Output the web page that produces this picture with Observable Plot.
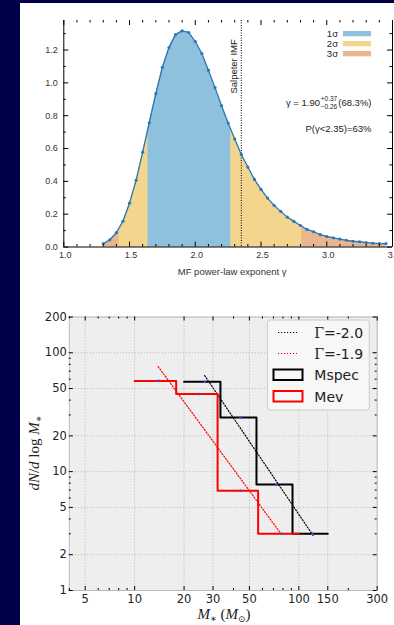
<!DOCTYPE html>
<html><head><meta charset="utf-8">
<script src="https://cdn.jsdelivr.net/npm/d3@7"></script>
<script src="https://cdn.jsdelivr.net/npm/@observablehq/plot@0.6"></script>
<style>
html,body{margin:0;padding:0;background:#000048;width:394px;height:625px;overflow:hidden}
#top{position:absolute;left:20px;top:3px;width:374px;height:290px;background:#fff}
#bot{position:absolute;left:20px;top:293px;width:374px;height:332px;background:#fff}
svg{display:block;overflow:visible}
</style></head><body>
<div id="top"></div><div id="bot"></div>
<script>
// ---------- top panel data ----------
const gammaValues = [1.30,1.35,1.40,1.45,1.50,1.55,1.60,1.65,1.70,1.75,1.80,1.85,1.90,1.95,2.00,2.05,2.10,2.15,2.20,2.25,2.30,2.35,2.40,2.45,2.50,2.55,2.60,2.65,2.70,2.75,2.80,2.85,2.90,2.95,3.00,3.05,3.10,3.15,3.20,3.25,3.30,3.35,3.40,3.45];
const density = [0.020,0.044,0.087,0.157,0.267,0.406,0.578,0.757,0.934,1.095,1.215,1.294,1.317,1.307,1.252,1.179,1.077,0.971,0.861,0.755,0.658,0.564,0.487,0.412,0.351,0.298,0.253,0.217,0.182,0.156,0.131,0.107,0.093,0.076,0.064,0.056,0.048,0.041,0.035,0.032,0.027,0.023,0.021,0.020];
const sigmaLabels = ["1σ","2σ","3σ"];
const sigmaRanges = [[1.64,2.27],[1.42,2.81],[1.30,3.45]];
const sigmaColors = ["#8ec1de","#f4d58d","#ebb58d"];
const salpeterGamma = 2.35;
const salpeterLabel = "Salpeter IMF";
const gammaBest = 1.90, gammaErrPlus = 0.37, gammaErrMinus = 0.26, gammaConf = "68.3%";
const probText = "P(γ<2.35)=63%";
const topXLabel = "MF power-law exponent γ";
const topXMajor = [1.0,1.5,2.0,2.5,3.0,3.5];
const topXMinor = [1.1,1.2,1.3,1.4,1.6,1.7,1.8,1.9,2.1,2.2,2.3,2.4,2.6,2.7,2.8,2.9,3.1,3.2,3.3,3.4];
const topYMajor = [0.0,0.2,0.4,0.6,0.8,1.0,1.2];
const topYMinor = [0.1,0.3,0.5,0.7,0.9,1.1,1.3];

// ---------- bottom panel data ----------
const mspecEdges = [20,33.3,55.2,91.5,150];
const mspecValues = [57,28.5,7.8,3.0,3.0];
const mspecCenters = [26.7,44.1,73.1,121.2];
const mevEdges = [10,17.9,32.0,56.5,100];
const mevValues = [58,45,6.9,3.0,3.0];
const mevCenters = [14.0,24.8,44.1,78.4];
const fit20M = [26.7,122.3], fit20N = [64.3,2.90];
const fit19M = [13.9,78.4], fit19N = [76.6,2.96];
const botXMajor = [5,10,20,30,50,100,150,300];
const botXMinor = [4,6,7,8,9,40,60,70,80,90,200];
const botYMajor = [1,2,5,10,20,50,100,200];
const botYMinor = [3,4,6,7,8,9,30,40,60,70,80,90];
const legendLabels = ["=-2.0","=-1.9","Mspec","Mev"];

// ================= TOP =================
const W1 = 374, H1 = 290;
const mT = {left:43.3, right:2, top:17, bottom:46.5};
const phT = H1 - mT.top - mT.bottom, pwT = W1 - mT.left - mT.right;
const pdf = gammaValues.map((g,i)=>({g, p:density[i]}));
const lineBlue = "#2878b8";
const tickFont = "Liberation Sans, Arial, Helvetica, sans-serif";

const topPlot = Plot.plot({
  width:W1, height:H1,
  marginLeft:mT.left, marginRight:mT.right, marginTop:mT.top, marginBottom:mT.bottom,
  x:{domain:[1,3.5], axis:null},
  y:{domain:[0,1.38], axis:null},
  style:{background:"transparent", fontFamily:tickFont, overflow:"visible"},
  marks:[
    Plot.areaY(pdf,{x:"g", y:"p", fill:sigmaColors[2]}),
    Plot.areaY(pdf,{x:"g", y:"p", fill:sigmaColors[1]}),
    Plot.areaY(pdf,{x:"g", y:"p", fill:sigmaColors[0]}),
    Plot.ruleX([salpeterGamma],{stroke:"#000", strokeWidth:1, strokeDasharray:"1,1.5"}),
    Plot.text([salpeterLabel],{x:salpeterGamma, y:1.266, text:d=>d, rotate:-90, textAnchor:"end", dx:-7.5, fontSize:9.5, fill:"#222", fontFamily:tickFont}),
    Plot.line(pdf,{x:"g", y:"p", stroke:lineBlue, strokeWidth:1.3}),
    Plot.dot(pdf,{x:"g", y:"p", r:1.6, fill:lineBlue}),
    // borders
    Plot.ruleX([1.0,3.5],{stroke:"#000", strokeWidth:1}),
    Plot.ruleY([0],{stroke:"#000", strokeWidth:1}),
    // ticks
    Plot.ruleX(topXMajor,{stroke:"#000", insetTop:phT-5}),
    Plot.ruleX(topXMajor,{stroke:"#000", insetBottom:phT-5}),
    Plot.ruleX(topXMinor,{stroke:"#000", insetTop:phT-2.5}),
    Plot.ruleX(topXMinor,{stroke:"#000", insetBottom:phT-2.5}),
    Plot.ruleY(topYMajor,{stroke:"#000", insetRight:pwT-5}),
    Plot.ruleY(topYMajor,{stroke:"#000", insetLeft:pwT-5}),
    Plot.ruleY(topYMinor,{stroke:"#000", insetRight:pwT-2.5}),
    Plot.ruleY(topYMinor,{stroke:"#000", insetLeft:pwT-2.5}),
    // tick labels
    Plot.text(topXMajor,{x:d=>d, frameAnchor:"bottom", dy:5, dx:1.5, lineAnchor:"top", text:d=>d.toFixed(1), fontSize:9, fill:"#333", fontFamily:tickFont}),
    Plot.text(topYMajor,{y:d=>d, frameAnchor:"left", dx:-6, textAnchor:"end", text:d=>d.toFixed(1), fontSize:9, fill:"#333", fontFamily:tickFont}),
    Plot.text([topXLabel],{frameAnchor:"bottom", dy:21, dx:4, lineAnchor:"top", text:d=>d, fontSize:9.5, fill:"#333", fontFamily:tickFont})
  ]
});
document.getElementById("top").appendChild(topPlot);

// clip the sigma areas
(function(){
  const svg = d3.select(topPlot);
  const sx = topPlot.scale("x");
  const toPx = sx.apply ? (v=>sx.apply(v)) : d3.scaleLinear(sx.domain, sx.range);
  const areas = svg.selectAll('g[aria-label="area"]').nodes();
  const defs = svg.insert("defs",":first-child");
  // areas order: 3σ, 2σ, 1σ
  [2,1,0].forEach((si,k)=>{
    const r = sigmaRanges[si];
    const id = "clipSig"+si;
    const x0 = toPx(r[0]), x1 = toPx(r[1]);
    defs.append("clipPath").attr("id",id).append("rect")
      .attr("x",x0).attr("y",0).attr("width",x1-x0).attr("height",H1);
    if (areas[k]) d3.select(areas[k]).attr("clip-path",`url(#${id})`);
  });
  // legend + annotations in page coords
  const g = svg.append("g").attr("transform","translate(-20,-3)")
    .attr("font-family",tickFont).attr("fill","#222").attr("text-anchor","start");
  sigmaLabels.forEach((lab,i)=>{
    g.append("text").attr("x",338).attr("y",36.5+10*i).attr("text-anchor","end").attr("font-size",9.5).text(lab);
    g.append("rect").attr("x",343).attr("y",31+10*i).attr("width",28).attr("height",5.3).attr("fill",sigmaColors[i]);
  });
  const ann = g.append("g");
  const a = ann.append("text").attr("x",0).attr("y",106).attr("text-anchor","start").attr("font-size",9.5).text(`γ = ${gammaBest.toFixed(2)}`);
  const wa = a.node().getComputedTextLength();
  const sup = ann.append("text").attr("x",wa+0.8).attr("y",101.3).attr("text-anchor","start").attr("font-size",6.5).text(`+${gammaErrPlus.toFixed(2)}`);
  const sub = ann.append("text").attr("x",wa+0.8).attr("y",109.2).attr("text-anchor","start").attr("font-size",6.5).text(`−${gammaErrMinus.toFixed(2)}`);
  const ws = Math.max(sup.node().getComputedTextLength(), sub.node().getComputedTextLength());
  const c = ann.append("text").attr("x",wa+ws+1.8).attr("y",106).attr("text-anchor","start").attr("font-size",9.5).text(`(${gammaConf})`);
  const total = wa+ws+1.8+c.node().getComputedTextLength();
  ann.attr("transform",`translate(${371.5-total},0)`);
  g.append("text").attr("x",371.5).attr("y",131.5).attr("text-anchor","end").attr("font-size",9.5).text(probText);
})();

// ================= BOTTOM =================
const W2 = 374, H2 = 332;
const mB = {left:48.8, right:17.3, top:23.5, bottom:35};
const phB = H2 - mB.top - mB.bottom, pwB = W2 - mB.left - mB.right;
const dv = "DejaVu Sans, Verdana, sans-serif";
const mspec = mspecEdges.map((m,i)=>({m, n:mspecValues[i]}));
const mev = mevEdges.map((m,i)=>({m, n:mevValues[i]}));
const fit20 = fit20M.map((m,i)=>({m, n:fit20N[i]}));
const fit19 = fit19M.map((m,i)=>({m, n:fit19N[i]}));
const markers = [
  ...mspecCenters.map((m,i)=>({m, n:mspecValues[i]})),
  ...mevCenters.map((m,i)=>({m, n:mevValues[i]}))
];
const tk = {stroke:"#000", strokeWidth:1};
const botPlot = Plot.plot({
  width:W2, height:H2,
  marginLeft:mB.left, marginRight:mB.right, marginTop:mB.top, marginBottom:mB.bottom,
  x:{type:"log", domain:[4,300], axis:null},
  y:{type:"log", domain:[1,200], axis:null},
  style:{background:"transparent", fontFamily:dv, overflow:"visible"},
  marks:[
    Plot.frame({fill:"#eeeeee", stroke:"none"}),
    Plot.ruleX(botXMajor,{stroke:"#b4b4b4", strokeWidth:1, strokeDasharray:"1,2"}),
    Plot.ruleY(botYMajor,{stroke:"#b4b4b4", strokeWidth:1, strokeDasharray:"1,2"}),
    Plot.frame({stroke:"#bcbcbc", strokeWidth:1}),
    Plot.line(fit20,{x:"m", y:"n", stroke:"#000", strokeWidth:1.2, strokeDasharray:"1.2,1.8"}),
    Plot.line(fit19,{x:"m", y:"n", stroke:"#ff0000", strokeWidth:1.2, strokeDasharray:"1.2,1.8"}),
    Plot.line(mspec,{x:"m", y:"n", curve:"step-after", stroke:"#000", strokeWidth:2}),
    Plot.line(mev,{x:"m", y:"n", curve:"step-after", stroke:"#ff0000", strokeWidth:2}),
    Plot.dot(markers,{x:"m", y:"n", r:1.3, fill:"#4646d2"}),
    // ticks (inward, all sides)
    Plot.ruleX(botXMajor,{...tk, insetTop:phB-4}),
    Plot.ruleX(botXMajor,{...tk, insetBottom:phB-4}),
    Plot.ruleX(botXMinor,{...tk, insetTop:phB-2}),
    Plot.ruleX(botXMinor,{...tk, insetBottom:phB-2}),
    Plot.ruleY(botYMajor,{...tk, insetRight:pwB-4}),
    Plot.ruleY(botYMajor,{...tk, insetLeft:pwB-4}),
    Plot.ruleY(botYMinor,{...tk, insetRight:pwB-2}),
    Plot.ruleY(botYMinor,{...tk, insetLeft:pwB-2}),
    // tick labels
    Plot.text(botXMajor,{x:d=>d, frameAnchor:"bottom", dy:4.5, lineAnchor:"top", text:d=>String(d), fontSize:11.5, fill:"#222", fontFamily:dv}),
    Plot.text(botYMajor,{y:d=>d, frameAnchor:"left", dx:-2.5, textAnchor:"end", text:d=>String(d), fontSize:11.5, fill:"#222", fontFamily:dv})
  ]
});
document.getElementById("bot").appendChild(botPlot);

(function(){
  const svg = d3.select(botPlot);
  const g = svg.append("g").attr("transform","translate(-20,-293)").attr("text-anchor","start");
  const serif = "Liberation Serif, DejaVu Serif, serif";
  // y label
  const yl = g.append("text").attr("transform","translate(38.5,453) rotate(-90)")
    .attr("text-anchor","middle").attr("font-family",serif).attr("font-size",15).attr("fill","#222");
  yl.append("tspan").attr("font-style","italic").text("dN");
  yl.append("tspan").text("/");
  yl.append("tspan").attr("font-style","italic").text("d");
  yl.append("tspan").text(" log ");
  yl.append("tspan").attr("font-style","italic").text("M");
  yl.append("tspan").attr("font-size",10).attr("dy",3).text("∗");
  // x label
  const xl = g.append("text").attr("x",224).attr("y",619)
    .attr("text-anchor","middle").attr("font-family",serif).attr("font-size",15).attr("fill","#222");
  xl.append("tspan").attr("font-style","italic").text("M");
  xl.append("tspan").attr("font-size",10).attr("dy",3).text("∗");
  xl.append("tspan").attr("dy",-3).text(" (");
  xl.append("tspan").attr("font-style","italic").text("M");
  xl.append("tspan").attr("font-size",9).attr("dy",3).text("⊙");
  xl.append("tspan").attr("dy",-3).text(")");
  // legend
  g.append("rect").attr("x",267.5).attr("y",320).attr("width",101.8).attr("height",90)
    .attr("rx",3).attr("fill","#f7f7f7").attr("stroke","#cccccc").attr("stroke-width",1);
  const rows = [332.5,353.5,375,396.5];
  ["#000","#ff0000"].forEach((c,i)=>{
    g.append("line").attr("x1",278).attr("x2",297).attr("y1",rows[i]).attr("y2",rows[i])
      .attr("stroke",c).attr("stroke-width",1.2).attr("stroke-dasharray","1.2,1.8");
  });
  ["#000","#ff0000"].forEach((c,i)=>{
    g.append("rect").attr("x",273.5).attr("y",rows[i+2]-5.5).attr("width",29).attr("height",10.5)
      .attr("fill","none").attr("stroke",c).attr("stroke-width",2);
  });
  legendLabels.forEach((lab,i)=>{
    const t = g.append("text").attr("x",314.3).attr("y",rows[i]+5.2).attr("text-anchor","start")
      .attr("font-family",dv).attr("font-size",14).attr("fill","#222");
    if (i<2) {
      t.append("tspan").attr("font-family","DejaVu Serif, Liberation Serif, serif").text("Γ");
    }
    t.append("tspan").text(lab);
  });
})();
</script>
</body></html>
